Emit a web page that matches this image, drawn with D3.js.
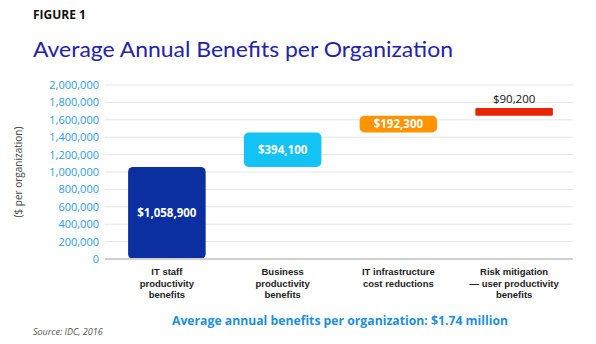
<!DOCTYPE html>
<html><head><meta charset="utf-8">
<script src="https://cdn.jsdelivr.net/npm/d3@7"></script>
<style>body{margin:0;background:#fff}svg{display:block}</style>
</head><body>
<script>
const categories = [["IT staff","productivity","benefits"],["Business","productivity","benefits"],["IT infrastructure","cost reductions"],["Risk mitigation","— user productivity","benefits"]];
const values = [1058900, 394100, 192300, 90200];
const valueLabels = ["$1,058,900","$394,100","$192,300","$90,200"];
const colors = ["#0b2fa0","#12c3f4","#ff9400","#e82500"];
const yTicks = [0,200000,400000,600000,800000,1000000,1200000,1400000,1600000,1800000,2000000];

const W=596,H=344;
const svg=d3.select("body").append("svg").attr("width",W).attr("height",H);
const y=d3.scaleLinear().domain([0,2000000]).range([259,85]);
const x=d3.scaleBand().domain(d3.range(values.length)).range([109,572]).paddingInner(0.33).paddingOuter(0.165);

// title
svg.append("text").attr("x",33).attr("y",19).text("FIGURE 1")
  .attr("font-family","Open Sans, sans-serif").attr("font-weight",700).attr("font-size",12).attr("fill","#111");
svg.append("text").attr("x",33).attr("y",57).text("Average Annual Benefits per Organization")
  .attr("font-family","Lato, sans-serif").attr("font-weight",400).attr("font-size",21.5).attr("fill","#2222aa")
  .attr("textLength",420).attr("lengthAdjust","spacingAndGlyphs");

// grid
svg.append("g").selectAll("line").data(yTicks.slice(1)).join("line")
  .attr("x1",105).attr("x2",573).attr("y1",d=>y(d)).attr("y2",d=>y(d))
  .attr("stroke","#e4e4e4").attr("stroke-width",1);

// y axis
const ya=svg.append("g").attr("transform","translate(104,0)")
  .call(d3.axisLeft(y).tickValues(yTicks).tickSize(0).tickPadding(5).tickFormat(d3.format(",")));
ya.select(".domain").remove();
ya.selectAll("text").attr("font-family","Open Sans, sans-serif").attr("font-size",11).attr("fill","#2d9be0");

svg.append("text").attr("transform","translate(22,172) rotate(-90)").attr("text-anchor","middle")
  .text("($ per organization)").attr("font-family","Open Sans, sans-serif").attr("font-size",10).attr("fill","#444");

// waterfall bars
let cum=0;
const bars=values.map((v,i)=>{const b={i,start:cum,end:cum+v};cum+=v;return b;});
svg.append("g").selectAll("rect").data(bars).join("rect")
  .attr("x",d=>x(d.i)).attr("width",x.bandwidth())
  .attr("y",d=>y(d.end)).attr("height",d=>y(d.start)-y(d.end))
  .attr("rx",d=>d.i==3?1:5).attr("fill",d=>colors[d.i]);

// baseline
svg.append("line").attr("x1",105).attr("x2",573).attr("y1",y(0)).attr("y2",y(0))
  .attr("stroke","#cfcfcf").attr("stroke-width",2);

// value labels
svg.append("g").selectAll("text").data(bars).join("text")
  .attr("x",d=>x(d.i)+x.bandwidth()/2)
  .attr("y",d=>d.i==3? y(d.end)-5 : (y(d.start)+y(d.end))/2+4)
  .attr("text-anchor","middle")
  .attr("font-family","Open Sans, sans-serif").attr("font-size",11.5)
  .attr("font-weight",d=>d.i==3?400:700)
  .attr("fill",d=>d.i==3?"#111":"#fff")
  .text(d=>valueLabels[d.i]);

// category labels
const cg=svg.append("g").selectAll("text").data(categories).join("text")
  .attr("text-anchor","middle").attr("font-family","Liberation Sans, Arial, sans-serif")
  .attr("font-weight",700).attr("font-size",9.5).attr("fill","#222");
cg.each(function(lines,i){
  d3.select(this).selectAll("tspan").data(lines).join("tspan")
    .attr("x",x(i)+x.bandwidth()/2).attr("y",(d,j)=>275+j*11.5).text(d=>d);
});

// footer
svg.append("text").attr("x",340).attr("y",325).attr("text-anchor","middle")
  .text("Average annual benefits per organization: $1.74 million")
  .attr("font-family","Open Sans, sans-serif").attr("font-weight",700).attr("font-size",12.5).attr("fill","#1b8fe0")
  .attr("textLength",336).attr("lengthAdjust","spacingAndGlyphs");
svg.append("text").attr("x",33).attr("y",335).text("Source: IDC, 2016")
  .attr("font-family","Open Sans, sans-serif").attr("font-style","italic").attr("font-size",9).attr("fill","#555");
</script>
</body></html>
